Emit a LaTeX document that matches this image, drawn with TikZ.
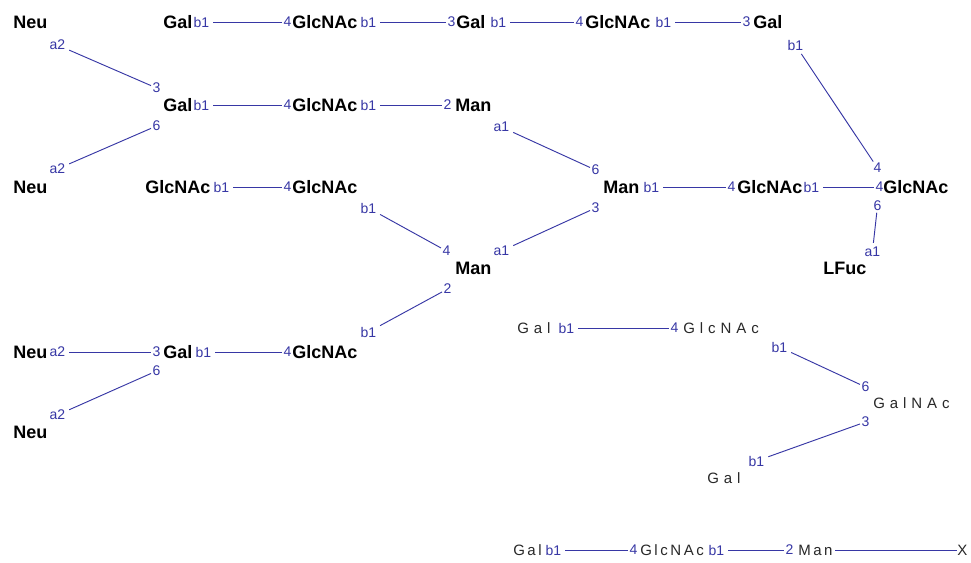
\documentclass[tikz,border=0pt]{standalone}
\usepackage{fontspec}
\setmainfont{Liberation Sans}
\newfontfamily\widefont[LetterSpace=33]{Liberation Sans}
\newfontfamily\midfont[LetterSpace=17]{Liberation Sans}
\definecolor{linkblue}{RGB}{55,55,165}
\definecolor{softblack}{RGB}{40,40,40}
\tikzset{
  res/.style={font=\fontsize{13.5pt}{16pt}\selectfont\bfseries, text=black, inner sep=0pt, anchor=west},
  resw/.style={font=\fontsize{11.25pt}{13pt}\selectfont\widefont, text=softblack, inner sep=0pt, anchor=west},
  resm/.style={font=\fontsize{11.25pt}{13pt}\selectfont\midfont, text=softblack, inner sep=0pt, anchor=west},
  lab/.style={font=\fontsize{10.5pt}{12pt}\selectfont, text=linkblue, inner sep=1pt, anchor=west},
  link/.style={draw=linkblue, line width=0.7pt, shorten <=2pt},
}
\begin{document}
\begin{tikzpicture}[x=0.75pt,y=-0.75pt]
\path[fill=white,use as bounding box] (0,0) rectangle (971,563);

% upper N-glycan: residues and linkage labels
\node[res] (neuA) at (13,22) {Neu};
\node[lab] (neuAa) at (48,45) {a2};
\node[res] (galA) at (163,22) {Gal};
\node[lab] (galAa) at (192,22) {b1};
\node[lab] (glcA4) at (282,22) {4};
\node[res] (glcA) at (292,22) {GlcNAc};
\node[lab] (glcAa) at (359,22) {b1};
\node[lab] (galB3) at (446,22) {3};
\node[res] (galB) at (456,22) {Gal};
\node[lab] (galBa) at (489,22) {b1};
\node[lab] (glcB4) at (574,22) {4};
\node[res] (glcB) at (585,22) {GlcNAc};
\node[lab] (glcBa) at (654,22) {b1};
\node[lab] (galC3) at (741,22) {3};
\node[res] (galC) at (753,22) {Gal};
\node[lab] (galCa) at (786,45) {b1};
\node[lab] (cor2t) at (872,168) {4};

\node[lab] (galD3) at (151,88) {3};
\node[res] (galD) at (163,105) {Gal};
\node[lab] (galD6) at (151,126) {6};
\node[lab] (galDa) at (192,105) {b1};
\node[lab] (glcD4) at (282,105) {4};
\node[res] (glcD) at (292,105) {GlcNAc};
\node[lab] (glcDa) at (359,105) {b1};
\node[lab] (manA2) at (442,105) {2};
\node[res] (manA) at (455,105) {Man};
\node[lab] (manAa) at (492,127) {a1};
\node[lab] (neuBa) at (48,169) {a2};
\node[res] (neuB) at (13,187) {Neu};

\node[lab] (manC6) at (590,170) {6};
\node[res] (manC) at (603,187) {Man};
\node[lab] (manCa) at (642,187) {b1};
\node[lab] (cor14) at (726,187) {4};
\node[res] (cor1) at (737,187) {GlcNAc};
\node[lab] (cor1a) at (802,187) {b1};
\node[lab] (cor24) at (874,187) {4};
\node[res] (cor2) at (883,187) {GlcNAc};
\node[lab] (cor26) at (872,206) {6};
\node[lab] (fuca) at (863,252) {a1};
\node[res] (fuc) at (823,268) {LFuc};

\node[res] (glcE) at (145,187) {GlcNAc};
\node[lab] (glcEa) at (212,187) {b1};
\node[lab] (glcF4) at (282,187) {4};
\node[res] (glcF) at (292,187) {GlcNAc};
\node[lab] (glcFa) at (359,208) {b1};
\node[lab] (manB4) at (441,251) {4};
\node[res] (manB) at (455,268) {Man};
\node[lab] (manBa) at (492,251) {a1};
\node[lab] (manC3) at (590,208) {3};
\node[lab] (manB2) at (442,289) {2};
\node[lab] (glcGa) at (359,332) {b1};

\node[res] (glcG) at (292,352) {GlcNAc};
\node[lab] (glcG4) at (282,352) {4};
\node[lab] (galEa) at (194,352) {b1};
\node[res] (galE) at (163,352) {Gal};
\node[lab] (galE3) at (151,352) {3};
\node[lab] (galE6) at (151,371) {6};
\node[lab] (neuCa) at (48,352) {a2};
\node[res] (neuC) at (13,352) {Neu};
\node[lab] (neuDa) at (48,415) {a2};
\node[res] (neuD) at (13,432) {Neu};

% O-glycan core
\node[resw] (galF) at (517,328) {Gal};
\node[lab] (galFa) at (557,328) {b1};
\node[lab] (glcH4) at (669,328) {4};
\node[resw] (glcH) at (683,328) {GlcNAc};
\node[lab] (glcHa) at (770,347) {b1};
\node[lab] (galn6) at (860,387) {6};
\node[resw] (galn) at (873,403) {GalNAc};
\node[lab] (galn3) at (860,422) {3};
\node[lab] (galGa) at (747,461) {b1};
\node[resw] (galG) at (707,478) {Gal};

% linear chain
\node[resm] (galH) at (513,550) {Gal};
\node[lab] (galHa) at (544,550) {b1};
\node[lab] (glcI4) at (628,550) {4};
\node[resm] (glcI) at (640,550) {GlcNAc};
\node[lab] (glcIa) at (707,550) {b1};
\node[lab] (manD2) at (784,550) {2};
\node[resm] (manD) at (798,550) {Man};
\node[resm] (xend) at (957,550) {X};

% glycosidic bonds
\draw[link] (galAa) -- (glcA4);
\draw[link] (glcAa) -- (galB3);
\draw[link] (galBa) -- (glcB4);
\draw[link] (glcBa) -- (galC3);
\draw[link] (galCa) -- (cor2t);
\draw[link] (neuAa) -- (galD3);
\draw[link] (galDa) -- (glcD4);
\draw[link] (glcDa) -- (manA2);
\draw[link] (neuBa) -- (galD6);
\draw[link] (manAa) -- (manC6);
\draw[link] (manCa) -- (cor14);
\draw[link] (cor1a) -- (cor24);
\draw[link] (fuca) -- (cor26);
\draw[link] (glcEa) -- (glcF4);
\draw[link] (glcFa) -- (manB4);
\draw[link] (manBa) -- (manC3);
\draw[link] (glcGa) -- (manB2);
\draw[link] (galEa) -- (glcG4);
\draw[link] (neuCa) -- (galE3);
\draw[link] (neuDa) -- (galE6);
\draw[link] (galFa) -- (glcH4);
\draw[link] (glcHa) -- (galn6);
\draw[link] (galGa) -- (galn3);
\draw[link] (galHa) -- (glcI4);
\draw[link] (glcIa) -- (manD2);
\draw[link] (manD) -- (xend);
\end{tikzpicture}
\end{document}
